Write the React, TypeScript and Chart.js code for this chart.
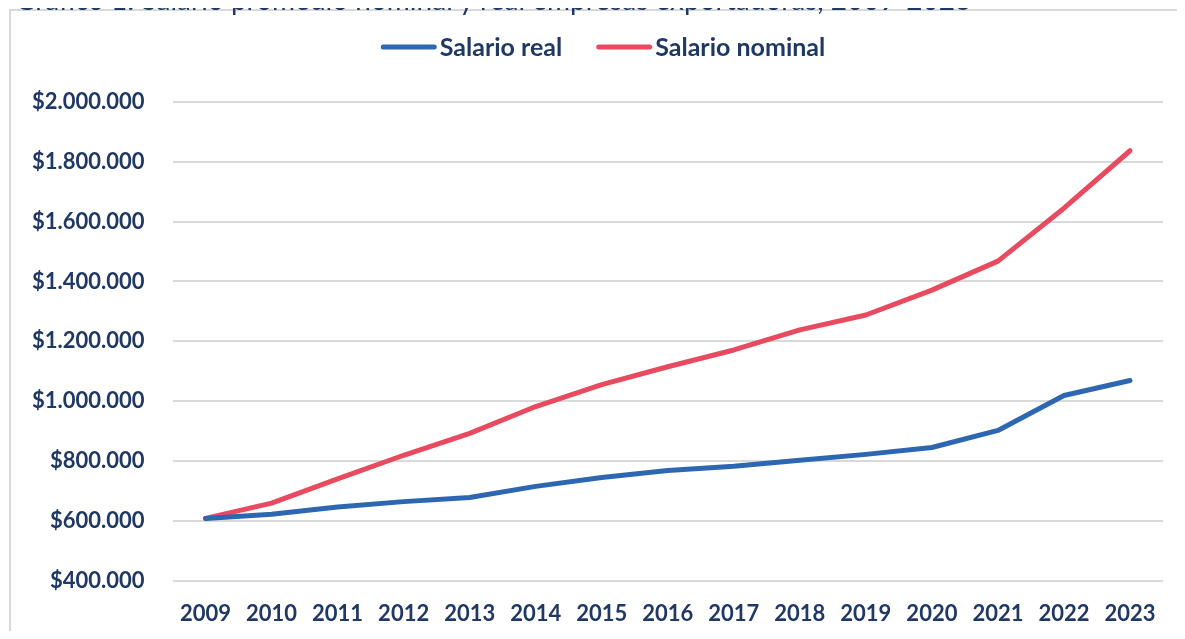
import React, { useEffect, useRef } from "react";
import { Chart, registerables } from "chart.js";

Chart.register(...registerables);

const years = ["2009","2010","2011","2012","2013","2014","2015","2016","2017","2018","2019","2020","2021","2022","2023"];
const salarioReal = [608000, 622000, 646000, 664000, 678000, 715000, 745000, 768000, 782000, 802000, 822000, 845000, 902000, 1019000, 1069000];
const salarioNominal = [608000, 659000, 740000, 819000, 892000, 982000, 1055000, 1115000, 1171000, 1238000, 1288000, 1371000, 1468000, 1645000, 1837000];
const yMin = 400000;
const yMax = 2000000;
const yStep = 200000;
const titleText = "Gráfico 1: Salario promedio nominal y real empresas exportadoras, 2009-2023";

const NAVY = "#1F3864";
const BLUE = "#2E67B1";
const RED = "#E84A5F";
const FONT = "Lato";
const SHIFT = 26;

function fmt(v: number): string {
  return "$" + Math.round(v).toString().replace(/\B(?=(\d{3})+(?!\d))/g, ".");
}

export default function App() {
  const ref = useRef<HTMLCanvasElement | null>(null);
  useEffect(() => {
    if (!ref.current) return;
    const customLegend = {
      id: "customLegend",
      afterDraw(chart: any) {
        const ctx = chart.ctx;
        ctx.save();
        ctx.font = "bold 25px " + FONT;
        const lineW = 56;
        const gapText = 3;
        const gapItems = 34;
        const items = chart.data.datasets.map((d: any) => ({
          label: d.label,
          color: d.borderColor,
          w: lineW + gapText + ctx.measureText(d.label).width,
        }));
        const total = items.reduce((s: number, it: any) => s + it.w, 0) + gapItems * (items.length - 1);
        let x = 603 - 8 + SHIFT - total / 2;
        const y = 39;
        items.forEach((it: any) => {
          ctx.strokeStyle = it.color;
          ctx.lineWidth = 5;
          ctx.lineCap = "round";
          ctx.beginPath();
          ctx.moveTo(x + 2.5, y);
          ctx.lineTo(x + lineW - 2.5, y);
          ctx.stroke();
          ctx.fillStyle = NAVY;
          ctx.textBaseline = "middle";
          ctx.textAlign = "left";
          ctx.fillText(it.label, x + lineW + gapText, y + 1);
          x += it.w + gapItems;
        });
        ctx.restore();
      },
    };
    const chart = new Chart(ref.current, {
      type: "line",
      data: {
        labels: years,
        datasets: [
          {
            label: "Salario real",
            data: salarioReal,
            borderColor: BLUE,
            backgroundColor: BLUE,
            borderWidth: 5,
            pointRadius: 0,
            tension: 0,
            borderCapStyle: "round",
            borderJoinStyle: "round",
          },
          {
            label: "Salario nominal",
            data: salarioNominal,
            borderColor: RED,
            backgroundColor: RED,
            borderWidth: 5,
            pointRadius: 0,
            tension: 0,
            borderCapStyle: "round",
            borderJoinStyle: "round",
          },
        ],
      },
      options: {
        responsive: false,
        animation: false,
        layout: { padding: { left: 22, right: 22, top: 94, bottom: 9 } },
        plugins: {
          tooltip: { enabled: false },
          legend: { display: false },
        },
        scales: {
          x: {
            offset: true,
            grid: { display: false },
            border: { display: false },
            ticks: {
              color: NAVY,
              padding: 12,
              maxRotation: 0,
              autoSkip: false,
              font: { family: FONT, size: 22, weight: "bold" },
            },
          },
          y: {
            min: yMin,
            max: yMax,
            grid: { color: "#D9D9D9", lineWidth: 2, drawTicks: false },
            border: { display: false },
            ticks: {
              stepSize: yStep,
              color: NAVY,
              padding: 28,
              font: { family: FONT, size: 22, weight: "bold" },
              callback: (v: any) => fmt(Number(v)),
            },
          },
        },
      },
      plugins: [customLegend],
    });
    return () => chart.destroy();
  }, []);

  return (
    <div style={{ position: "relative", width: 1177, height: 623 }}>
      <div
        style={{
          position: "absolute",
          left: 7,
          top: -23,
          fontFamily: FONT,
          fontSize: 28,
          lineHeight: "28px",
          color: NAVY,
          whiteSpace: "nowrap",
          zIndex: 2,
        }}
      >
        {titleText}
      </div>
      <div style={{ position: "absolute", left: 0, top: 0, width: 1177, height: 623, overflow: "hidden" }}>
        <div
          style={{
            position: "absolute",
            left: 1,
            top: 1,
            width: 1300,
            height: 800,
            border: "2px solid #D9D9D9",
            boxSizing: "border-box",
          }}
        />
        <canvas
          ref={ref}
          width={1177 + SHIFT}
          height={640}
          style={{ position: "absolute", left: -SHIFT, top: 0 }}
        />
      </div>
    </div>
  );
}
